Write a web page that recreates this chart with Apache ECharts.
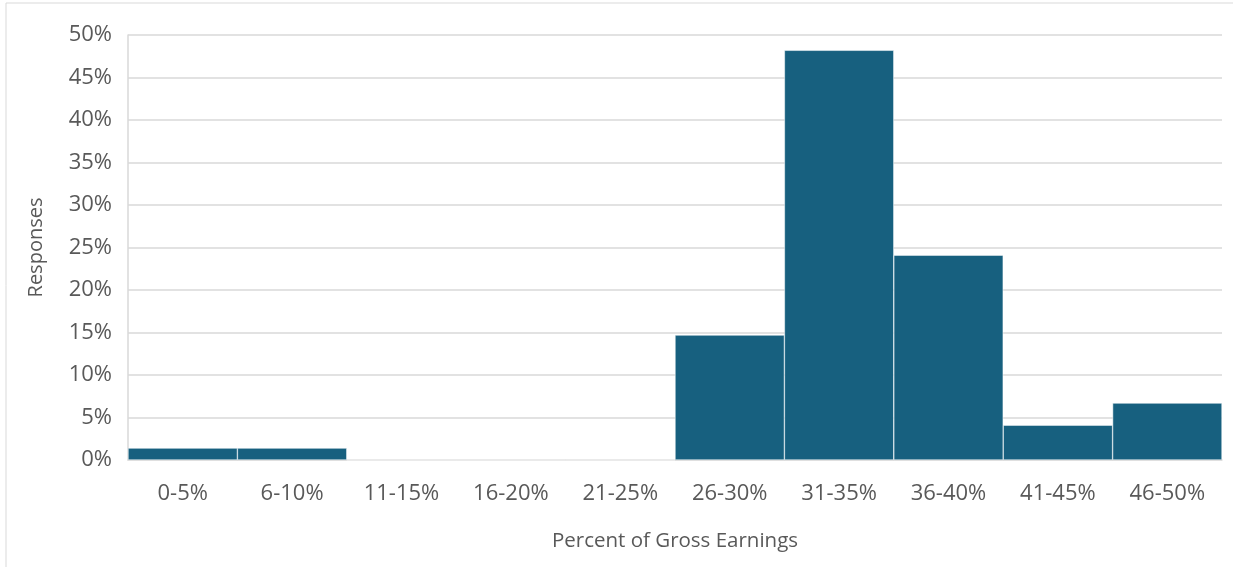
<!DOCTYPE html>
<html>
<head>
<meta charset="utf-8">
<script src="https://cdn.jsdelivr.net/npm/echarts@6/dist/echarts.min.js"></script>
<style>
  html, body { margin: 0; padding: 0; background: #fff; }
  #main { width: 1233px; height: 567px; }
</style>
</head>
<body>
<div id="main"></div>
<script>
var categories = ['0-5%', '6-10%', '11-15%', '16-20%', '21-25%', '26-30%', '31-35%', '36-40%', '41-45%', '46-50%'];
var responses = [1.4, 1.4, 0, 0, 0, 14.7, 48.2, 24.1, 4.1, 6.7];
var yTicks = [0, 5, 10, 15, 20, 25, 30, 35, 40, 45, 50];

var myChart = echarts.init(document.getElementById('main'));

var textColor = '#595959';
var gridColor = '#d9d9d9';

var option = {
  animation: false,
  textStyle: { fontFamily: 'Open Sans' },
  graphic: [{
    type: 'rect',
    shape: { x: 6, y: 3, width: 1240, height: 580 },
    style: { fill: 'none', stroke: '#d9d9d9', lineWidth: 1 }
  }],
  grid: { left: 128, right: 11, top: 35, bottom: 107 },
  xAxis: {
    type: 'category',
    data: categories,
    name: 'Percent of Gross Earnings',
    nameLocation: 'middle',
    nameGap: 71,
    nameTextStyle: { color: textColor, fontSize: 20.5 },
    axisLine: { lineStyle: { color: gridColor, width: 1.5 } },
    axisTick: { show: false },
    axisLabel: { color: textColor, fontSize: 22, margin: 23 }
  },
  yAxis: {
    type: 'value',
    min: yTicks[0],
    max: yTicks[yTicks.length - 1],
    interval: 5,
    name: 'Responses',
    nameLocation: 'middle',
    nameGap: 82,
    nameTextStyle: { color: textColor, fontSize: 20 },
    axisLine: { show: true, lineStyle: { color: gridColor, width: 1.5 } },
    axisTick: { show: false },
    axisLabel: { color: textColor, fontSize: 22, margin: 16, formatter: '{value}%' },
    splitLine: { lineStyle: { color: gridColor, width: 1.5 } }
  },
  series: [{
    type: 'bar',
    data: responses,
    barCategoryGap: '0%',
    itemStyle: { color: '#17607F', borderColor: '#ffffff', borderWidth: 0.5 }
  }]
};

myChart.setOption(option);
</script>
</body>
</html>
